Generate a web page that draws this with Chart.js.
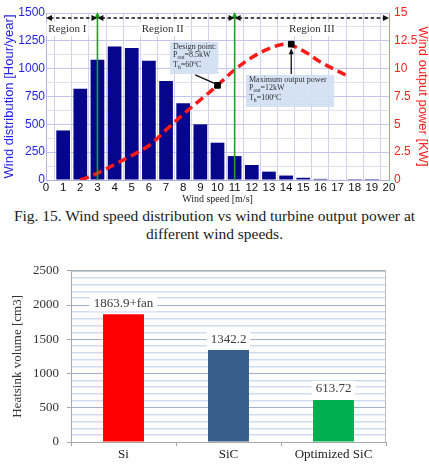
<!DOCTYPE html>
<html><head><meta charset="utf-8">
<script src="https://cdn.jsdelivr.net/npm/chart.js@4/dist/chart.umd.min.js"></script>
<style>
html,body{margin:0;padding:0;background:#fff;width:429px;height:471px;overflow:hidden;}
#w1{position:absolute;left:0;top:0;width:429px;height:205px;}
#cap{position:absolute;left:0;top:207px;width:429px;text-align:center;font-family:"Liberation Serif","Times New Roman",serif;font-size:15.5px;line-height:18px;color:#1a1a1a;}
#w2{position:absolute;left:0;top:255px;width:429px;height:216px;}
</style></head><body>
<div id="w1"><canvas id="c1"></canvas></div>
<div id="cap">Fig. 15. Wind speed distribution vs wind turbine output power at<br>different wind speeds.</div>
<div id="w2"><canvas id="c2"></canvas></div>
<script>
// ---- data: top chart ----
const windSpeeds = [1,2,3,4,5,6,7,8,9,10,11,12,13,14,15,16,17,18,19];
const windHours  = [445,820,1080,1200,1185,1070,890,690,500,335,215,135,75,40,20,10,4,1,0.5];
const powerSpeeds = [2,3,4,5,6,7,8,9,10,11,12,13,14,15,16,17,17.5];
const powerKW     = [0,0.6,1.4,2.2,3.1,4.5,5.9,7.2,8.5,9.9,11.0,11.8,12.2,11.6,10.6,9.8,9.4];
const markerSpeeds = [10,14.3];
const markerPower  = [8.5,12.2];
const regionBounds = [0,3,11,20];
const regionNames  = ['Region I','Region II','Region III'];
const xTicks = [0,20];
const yLeftRange = [0,1500];
const yRightRange = [0,15];
// ---- data: bottom chart ----
const materials = ['Si','SiC','Optimized SiC'];
const heatsinkVolume = [1863.9,1342.2,613.72];
const volumeLabels = ['1863.9+fan','1342.2','613.72'];
const yVolRange = [0,2500];

const SANS = '"Liberation Sans", Arial, sans-serif';
const SERIF = '"Liberation Serif", "Times New Roman", serif';

function arrowHead(ctx,x,y,ang,len,wid,color){
  ctx.save();ctx.translate(x,y);ctx.rotate(ang);
  ctx.beginPath();ctx.moveTo(0,0);ctx.lineTo(-len,-wid/2);ctx.lineTo(-len,wid/2);ctx.closePath();
  ctx.fillStyle=color;ctx.fill();ctx.restore();
}

// annotation layout (data units)
const notes = {
  designBox:{x0:7.23,x1:10.05,y0:1240,y1:952},
  designArrowFrom:{x:8.7,y:945},
  maxBox:{x0:11.66,x1:16.8,y0:943,y1:656},
  regionLabelX:[1.25,6.8,15.5], regionLabelY:1356, arrowY:1455
};

function subText(ctx,x,y,parts,size){
  let cx=x;
  for(const [t,k] of parts){
    const s = k==='n'?size:size*0.7;
    ctx.font = s+'px '+SERIF;
    const dy = k==='sub'?size*0.35:(k==='sup'?-size*0.35:0);
    ctx.fillText(t,cx,y+dy);
    cx += ctx.measureText(t).width;
  }
}

const topPlugin = {
  id:'topDeco',
  afterDatasetsDraw(chart){
    const {ctx} = chart; const xs=chart.scales.x, yl=chart.scales.y, yr=chart.scales.y2;
    ctx.save();
    for(const b of [regionBounds[1],regionBounds[2]]){
      const px=xs.getPixelForValue(b);
      ctx.strokeStyle='#22a022';ctx.lineWidth=1.6;ctx.setLineDash([]);
      ctx.beginPath();ctx.moveTo(px,yl.getPixelForValue(0));ctx.lineTo(px,yl.getPixelForValue(yLeftRange[1])+4);ctx.stroke();
      arrowHead(ctx,px,yl.getPixelForValue(yLeftRange[1])-1,-Math.PI/2,6,6,'#22a022');
    }
    const ay=yl.getPixelForValue(notes.arrowY);
    for(let i=0;i<regionBounds.length-1;i++){
      const a=xs.getPixelForValue(regionBounds[i]), b=xs.getPixelForValue(regionBounds[i+1]);
      ctx.strokeStyle='#111';ctx.lineWidth=1.4;ctx.setLineDash([3.5,2.5]);
      ctx.beginPath();ctx.moveTo(a+4,ay);ctx.lineTo(b-4,ay);ctx.stroke();
      ctx.setLineDash([]);
      arrowHead(ctx,a,ay,Math.PI,6,6,'#111');
      arrowHead(ctx,b,ay,0,6,6,'#111');
    }
    ctx.font='11px '+SERIF;ctx.textAlign='center';ctx.textBaseline='middle';
    regionNames.forEach((n,i)=>{
      const px=xs.getPixelForValue(notes.regionLabelX[i]), py=yl.getPixelForValue(notes.regionLabelY);
      const w=ctx.measureText(n).width;
      ctx.fillStyle='#fff';ctx.fillRect(px-w/2-2,py-7,w+4,14);
      ctx.fillStyle='#333';ctx.fillText(n,px,py);
    });
    const db=notes.designBox;
    let bx0=xs.getPixelForValue(db.x0),bx1=xs.getPixelForValue(db.x1),by0=yl.getPixelForValue(db.y0),by1=yl.getPixelForValue(db.y1);
    ctx.fillStyle='rgba(208,224,242,0.92)';ctx.fillRect(bx0,by0,bx1-bx0,by1-by0);
    ctx.fillStyle='#333';ctx.textAlign='left';ctx.textBaseline='middle';
    subText(ctx,bx0+3,by0+5,[['Design point:','n']],8);
    subText(ctx,bx0+3,by0+13,[['P','n'],['out','sub'],['=8.5kW','n']],8);
    subText(ctx,bx0+3,by0+23,[['T','n'],['h','sub'],['=60','n'],['o','sup'],['C','n']],8);
    const mx=xs.getPixelForValue(markerSpeeds[0]), my=yr.getPixelForValue(markerPower[0]);
    const fx=xs.getPixelForValue(notes.designArrowFrom.x), fy=yl.getPixelForValue(notes.designArrowFrom.y);
    ctx.strokeStyle='#111';ctx.lineWidth=1.3;ctx.beginPath();ctx.moveTo(fx,fy);ctx.lineTo(mx-3,my-2);ctx.stroke();
    const mb=notes.maxBox;
    bx0=xs.getPixelForValue(mb.x0);bx1=xs.getPixelForValue(mb.x1);by0=yl.getPixelForValue(mb.y0);by1=yl.getPixelForValue(mb.y1);
    ctx.fillStyle='rgba(208,224,242,0.92)';ctx.fillRect(bx0,by0,bx1-bx0,by1-by0);
    ctx.fillStyle='#333';
    subText(ctx,bx0+3,by0+5,[['Maximum output power','n']],8);
    subText(ctx,bx0+3,by0+13,[['P','n'],['out','sub'],['=12kW','n']],8);
    subText(ctx,bx0+3,by0+23,[['T','n'],['h','sub'],['=100','n'],['o','sup'],['C','n']],8);
    const m2x=xs.getPixelForValue(markerSpeeds[1]), m2y=yr.getPixelForValue(markerPower[1]);
    ctx.strokeStyle='#111';ctx.lineWidth=1.3;ctx.beginPath();ctx.moveTo(m2x,by0-1);ctx.lineTo(m2x,m2y+8);ctx.stroke();
    arrowHead(ctx,m2x,m2y+4,-Math.PI/2,6,5,'#111');
    ctx.restore();
  }
};

new Chart(document.getElementById('c1'),{
  type:'bar',
  data:{datasets:[
    {type:'bar',data:windSpeeds.map((s,i)=>({x:s,y:windHours[i]})),backgroundColor:'#06068c',barPercentage:1,categoryPercentage:0.8,yAxisID:'y',order:3},
    {type:'line',data:powerSpeeds.map((s,i)=>({x:s,y:powerKW[i]})),borderColor:'#ff1a1a',borderWidth:3.5,borderDash:[9,5],pointRadius:0,tension:0.35,fill:false,yAxisID:'y2',order:1},
    {type:'line',data:markerSpeeds.map((s,i)=>({x:s,y:markerPower[i]})),showLine:false,pointStyle:'rect',pointRadius:4,backgroundColor:'#000',borderColor:'#000',yAxisID:'y2',order:0}
  ]},
  options:{
    responsive:true,maintainAspectRatio:false,animation:false,
    layout:{padding:{top:13,left:0,right:0,bottom:0}},
    plugins:{legend:{display:false},tooltip:{enabled:false}},
    scales:{
      x:{type:'linear',min:xTicks[0],max:xTicks[1],offset:false,
        ticks:{stepSize:1,padding:1,color:'#111',font:{family:SANS,size:11.5},maxRotation:0,autoSkip:false},
        grid:{color:'#d2d2f0',drawTicks:false},border:{color:'#b0b0d8'},
        title:{display:true,text:'Wind speed [m/s]',color:'#222',font:{family:SERIF,size:10},padding:{top:0,bottom:0}},
        afterFit(s){s.height=25;}},
      y:{position:'left',min:yLeftRange[0],max:yLeftRange[1],
        ticks:{stepSize:125,padding:1,autoSkip:false,color:'#2424e6',font:{family:SANS,size:12},callback:v=>v%250===0?v:''},
        grid:{drawTicks:false,color:c=>c.tick&&c.tick.value%250===0?'#c4c4ec':'#e0e0f4'},border:{color:'#b0b0d8'},
        title:{display:true,text:'Wind distribution [Hour/year]',color:'#2424e6',font:{family:SANS,size:13},padding:{top:2,bottom:0}},
        afterFit(s){s.width=46;}},
      y2:{position:'right',min:yRightRange[0],max:yRightRange[1],
        ticks:{stepSize:1.25,padding:5,autoSkip:false,color:'#ff2020',font:{family:SANS,size:12},callback:v=>(Math.abs(v/2.5-Math.round(v/2.5))<1e-6)?v:''},
        grid:{drawOnChartArea:false,drawTicks:false},border:{color:'#ff8080'},
        title:{display:true,text:'Wind output power [KW]',color:'#ff2020',font:{family:SANS,size:13,lineHeight:1},padding:{top:0,bottom:0}},
        afterFit(s){s.width=40;}}
    }
  },
  plugins:[topPlugin]
});

const botPlugin = {
  id:'botDeco',
  beforeDatasetsDraw(chart){
    const {ctx,chartArea:a}=chart;
    ctx.save();ctx.strokeStyle='#bdbdbd';ctx.lineWidth=1;
    ctx.beginPath();ctx.moveTo(a.left,a.top+0.5);ctx.lineTo(a.right-0.5,a.top+0.5);ctx.lineTo(a.right-0.5,a.bottom);ctx.stroke();
    ctx.restore();
  },
  afterDatasetsDraw(chart){
    const {ctx}=chart; const meta=chart.getDatasetMeta(0);
    ctx.save();ctx.font='13px '+SERIF;ctx.textAlign='center';ctx.textBaseline='middle';
    meta.data.forEach((bar,i)=>{
      const t=volumeLabels[i], w=ctx.measureText(t).width, y=bar.y-11;
      ctx.fillStyle='#fff';ctx.fillRect(bar.x-w/2-4,y-8,w+8,16);
      ctx.fillStyle='#3a3a3a';ctx.fillText(t,bar.x,y);
    });
    ctx.restore();
  }
};

new Chart(document.getElementById('c2'),{
  type:'bar',
  data:{labels:materials,datasets:[{data:heatsinkVolume,backgroundColor:['#ff0000','#385d8a','#00b050'],barPercentage:0.39,categoryPercentage:1}]},
  options:{
    responsive:true,maintainAspectRatio:false,animation:false,
    layout:{padding:{top:13,right:43,left:0,bottom:0}},
    plugins:{legend:{display:false},tooltip:{enabled:false}},
    scales:{
      x:{grid:{offset:true,drawOnChartArea:false,tickLength:4,color:'#a8a8a8'},border:{color:'#a8a8a8'},
        ticks:{padding:1,color:'#222',font:{family:SERIF,size:13}},
        afterFit(s){s.height=29;}},
      y:{min:yVolRange[0],max:yVolRange[1],
        ticks:{stepSize:100,padding:8,autoSkip:false,color:'#333',font:{family:SERIF,size:13},callback:v=>v%500===0?v:''},
        grid:{tickLength:4,color:c=>c.tick&&c.tick.value%500===0?'#9fb0c8':'#cfdcf0',lineWidth:c=>c.tick&&c.tick.value%500===0?1:1.5,
          tickColor:c=>c.tick&&c.tick.value%500===0?'#a8a8a8':'rgba(0,0,0,0)'},border:{color:'#a8a8a8'},
        title:{display:true,text:'Heatsink volume [cm3]',color:'#333',font:{family:SERIF,size:13},padding:{top:10,bottom:0}},
        afterFit(s){s.width=71;}}
    }
  },
  plugins:[botPlugin]
});
</script>
</body></html>
